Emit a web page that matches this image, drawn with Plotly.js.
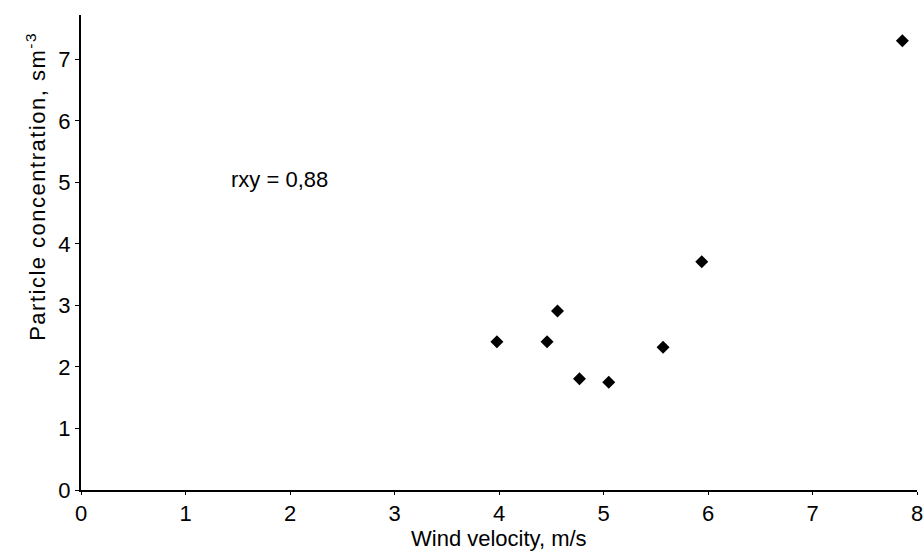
<!DOCTYPE html>
<html>
<head>
<meta charset="utf-8">
<script src="https://cdn.plot.ly/plotly-3.0.1.min.js"></script>
<style>
html,body{margin:0;padding:0;background:#fff;}
#chart{width:924px;height:552px;}
#chart .annotation[data-index="1"] text{letter-spacing:1.5px;}
</style>
</head>
<body>
<div id="chart"></div>
<script>
const windVelocity = [3.98, 4.46, 4.56, 4.77, 5.05, 5.57, 5.94, 7.86];
const particleConc = [2.41, 2.41, 2.91, 1.81, 1.75, 2.32, 3.71, 7.30];
const xTicks = [0, 1, 2, 3, 4, 5, 6, 7, 8];
const yTicks = [0, 1, 2, 3, 4, 5, 6, 7];
const xTitle = 'Wind velocity, m/s';
const yTitle = 'Particle concentration, sm<sup>-3</sup>';
const rLabel = 'rxy = 0,88';

const font = {family: 'Liberation Sans, Arial, sans-serif', size: 22, color: '#000'};

Plotly.newPlot('chart', [{
  x: windVelocity, y: particleConc, type: 'scatter', mode: 'markers',
  marker: {symbol: 'diamond', size: 10, color: '#000'}
}], {
  width: 924, height: 552,
  margin: {l: 81, r: 7, t: 15, b: 62},
  paper_bgcolor: '#fff', plot_bgcolor: '#fff',
  font: font,
  showlegend: false,
  xaxis: {
    range: [0, 8], tickvals: xTicks, ticktext: xTicks.map(String),
    showgrid: false, zeroline: false, showline: true, linecolor: '#000', linewidth: 2,
    ticks: 'outside', ticklen: 3, tickcolor: '#000', tickfont: font, automargin: false
  },
  yaxis: {
    range: [0, 7.72], tickvals: yTicks, ticktext: yTicks.map(String),
    showgrid: false, zeroline: false, showline: true, linecolor: '#000', linewidth: 2,
    ticks: 'outside', ticklen: 4, tickcolor: '#000', tickfont: font, automargin: false
  },
  annotations: [
    {
      x: 1.42, y: 5.05, xref: 'x', yref: 'y', xanchor: 'left', yanchor: 'middle',
      text: rLabel, showarrow: false, font: font
    },
    {
      x: -0.054, y: 0.64, xref: 'paper', yref: 'paper', xanchor: 'center', yanchor: 'middle',
      textangle: -90, text: yTitle, showarrow: false, font: font
    },
    {
      x: 0.5, y: -0.102, xref: 'paper', yref: 'paper', xanchor: 'center', yanchor: 'middle',
      text: xTitle, showarrow: false, font: font
    }
  ]
}, {displayModeBar: false, staticPlot: true});
</script>
</body>
</html>
